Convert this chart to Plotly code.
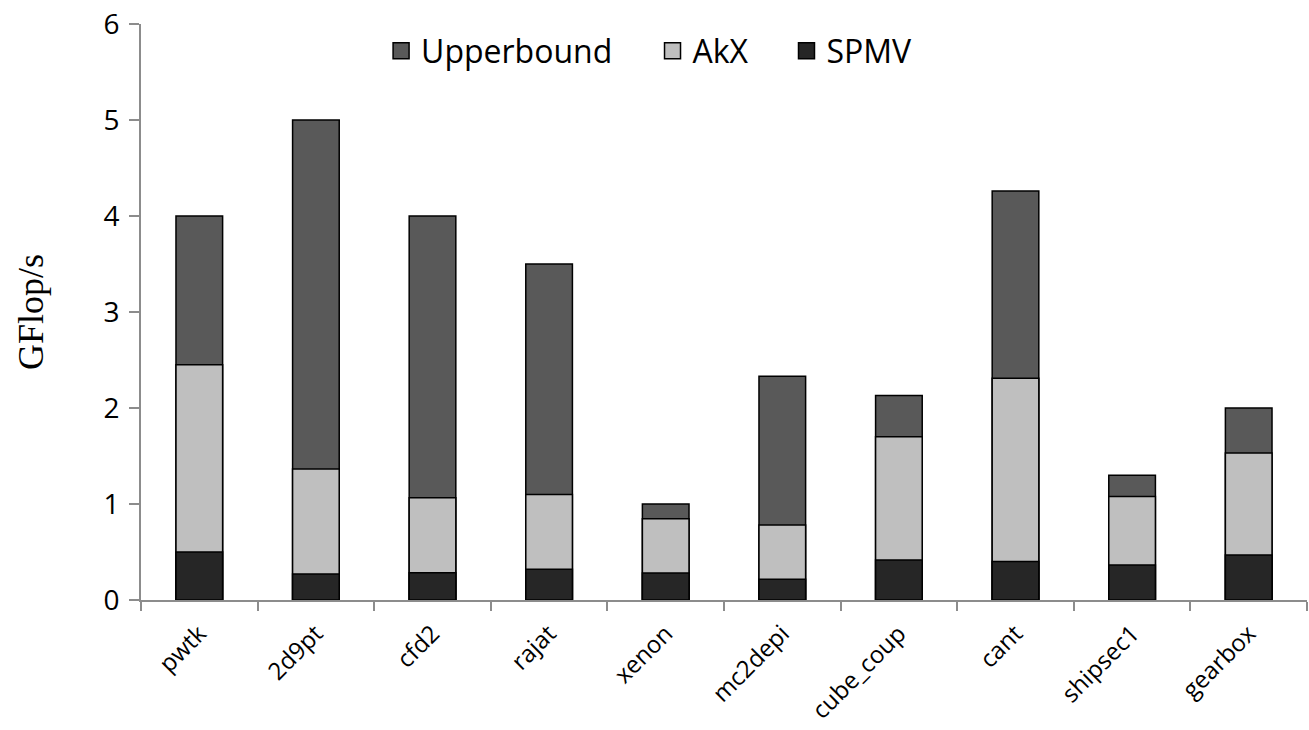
import plotly.graph_objects as go

categories = ["pwtk", "2d9pt", "cfd2", "rajat", "xenon", "mc2depi", "cube_coup", "cant", "shipsec1", "gearbox"]
upperbound = [4.0, 5.0, 4.0, 3.5, 1.0, 2.33, 2.13, 4.26, 1.30, 2.0]
akx = [2.45, 1.365, 1.065, 1.10, 0.847, 0.78, 1.70, 2.31, 1.077, 1.53]
spmv = [0.50, 0.27, 0.285, 0.32, 0.28, 0.215, 0.417, 0.40, 0.365, 0.47]

series = [
    ("Upperbound", upperbound, "#595959"),
    ("AkX", akx, "#BFBFBF"),
    ("SPMV", spmv, "#262626"),
]
legend_ids = ["legend", "legend2", "legend3"]
legend_x = [0.2059, 0.4387, 0.5536]

FONT = "'Open Sans', 'Noto Sans', sans-serif"

fig = go.Figure()
for name, vals, color in series:
    fig.add_trace(go.Bar(
        x=categories, y=vals, name=name, showlegend=False,
        marker=dict(color=color, line=dict(color="#000000", width=1.5)),
        width=0.4,
    ))
for (name, vals, color), lid in zip(series, legend_ids):
    fig.add_trace(go.Scatter(
        x=[None], y=[None], mode="markers", name=name, legend=lid,
        marker=dict(symbol="square", size=16, color=color, line=dict(color="#000000", width=1.5)),
    ))

legend_style = dict(orientation="h", xanchor="left", y=0.953, yanchor="middle",
                    font=dict(size=32, family=FONT, color="#000000"),
                    bgcolor="rgba(0,0,0,0)", itemwidth=30)

fig.update_layout(
    width=1309, height=730,
    barmode="overlay",
    plot_bgcolor="white", paper_bgcolor="white",
    margin=dict(l=141, r=2, t=24, b=130),
    font=dict(family=FONT, color="#000000"),
    legend=dict(x=legend_x[0], **legend_style),
    legend2=dict(x=legend_x[1], **legend_style),
    legend3=dict(x=legend_x[2], **legend_style),
    xaxis=dict(
        automargin=False,
        showline=True, linecolor="#8c8c8c", linewidth=2,
        ticks="outside", ticklen=9, tickcolor="#8c8c8c", tickwidth=2,
        tickson="boundaries", tickangle=-45, ticklabelstandoff=8,
        tickfont=dict(size=24, family=FONT, color="#000000"),
        showgrid=False, zeroline=False,
    ),
    yaxis=dict(
        automargin=False,
        range=[0, 6], dtick=1, showline=True, linecolor="#8c8c8c", linewidth=2,
        ticks="outside", ticklen=10, tickcolor="#8c8c8c", tickwidth=2,
        tickfont=dict(size=28, family=FONT, color="#000000"), ticklabelstandoff=4,
        showgrid=False, zeroline=False,
        title=dict(text="GFlop/s", font=dict(family="'Liberation Serif', 'Times New Roman', serif", size=36, color="#000000"), standoff=49),
    ),
)

# remove the browser's default 8px body margin so the figure starts at the page corner
fig.write_html("out.html", config={"displayModeBar": False},
               post_script="document.body.style.margin='0';")
